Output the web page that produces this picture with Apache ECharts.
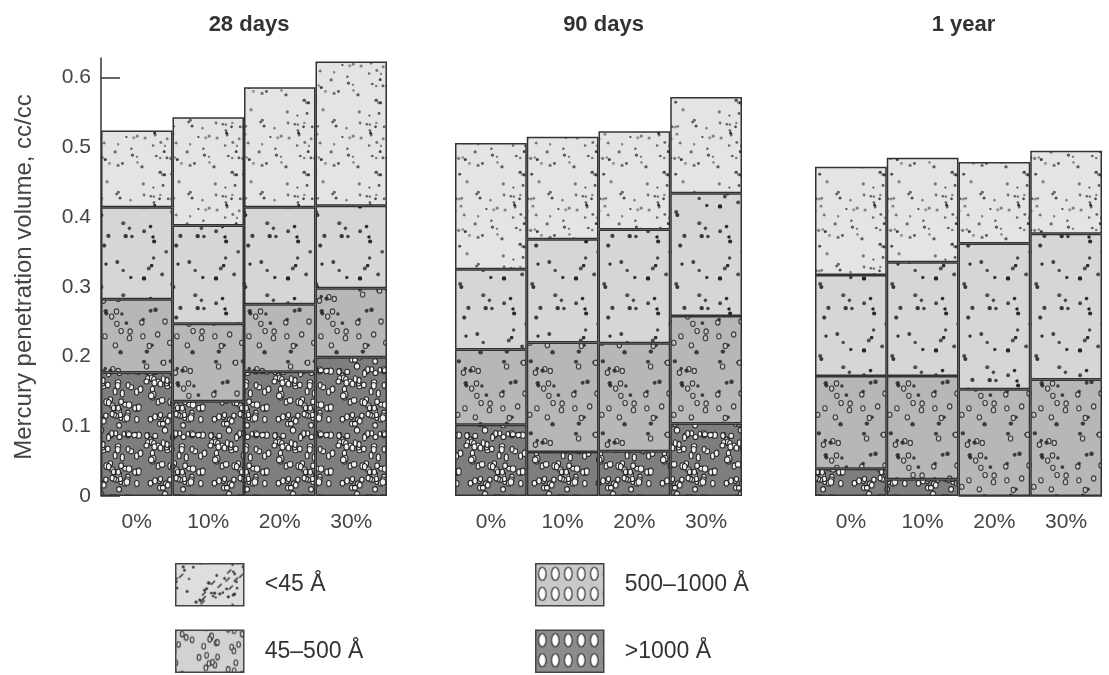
<!DOCTYPE html>
<html lang="en">
<head>
    <meta charset="utf-8">
    <title>Mercury penetration volume</title>
    <script src="https://cdn.jsdelivr.net/npm/echarts@6/dist/echarts.min.js"></script>
    <style>
        html, body { margin: 0; padding: 0; background: #fff; }
    </style>
</head>
<body>
<div id="chart" style="width:1109px; height:675px;"></div>

<script>
    // categories
    var ages = ['28 days', '90 days', '1 year'];
    var replacement = ['0%', '10%', '20%', '30%'];
    var sizeClasses = ['>1000 Å', '500–1000 Å', '45–500 Å', '<45 Å'];   // bottom -> top
    var yTicks = [0, 0.1, 0.2, 0.3, 0.4, 0.5, 0.6];

    // segment volumes (cc/cc), one row per age, one value per replacement level
    var over1000 = [
        [0.177, 0.136, 0.178, 0.199],
        [0.102, 0.063, 0.064, 0.104],
        [0.039, 0.024, 0, 0]
    ];
    var from500to1000 = [
        [0.105, 0.111, 0.097, 0.099],
        [0.108, 0.157, 0.155, 0.154],
        [0.133, 0.148, 0.153, 0.167]
    ];
    var from45to500 = [
        [0.132, 0.141, 0.139, 0.118],
        [0.115, 0.148, 0.163, 0.176],
        [0.145, 0.163, 0.209, 0.209]
    ];
    var under45 = [
        [0.110, 0.155, 0.172, 0.207],
        [0.181, 0.147, 0.141, 0.138],
        [0.155, 0.150, 0.117, 0.119]
    ];
    var classData = [over1000, from500to1000, from45to500, under45];

    // ---- texture tiles (pure styling) ----
    function rng(seed) {
        return function () {
            seed = (seed * 16807) % 2147483647;
            return (seed - 1) / 2147483646;
        };
    }
    function tile(w, h, bg, seed, count, drawOne) {
        var c = document.createElement('canvas');
        c.width = w; c.height = h;
        var ctx = c.getContext('2d');
        ctx.fillStyle = bg;
        ctx.fillRect(0, 0, w, h);
        var r = rng(seed);
        for (var i = 0; i < count; i++) {
            var x = r() * w, y = r() * h, a = r(), b = r();
            for (var dx = -w; dx <= w; dx += w) {
                for (var dy = -h; dy <= h; dy += h) {
                    drawOne(ctx, x + dx, y + dy, a, b);
                }
            }
        }
        return c;
    }
    function dot(ctx, x, y, rad, col) {
        ctx.beginPath();
        ctx.arc(x, y, rad, 0, Math.PI * 2);
        ctx.fillStyle = col;
        ctx.fill();
    }
    function oval(ctx, x, y, rx, ry, fill, stroke, lw) {
        ctx.beginPath();
        ctx.ellipse(x, y, rx, ry, 0, 0, Math.PI * 2);
        ctx.fillStyle = fill;
        ctx.fill();
        ctx.lineWidth = lw;
        ctx.strokeStyle = stroke;
        ctx.stroke();
    }
    function pattern(canvas) {
        return { image: canvas, repeat: 'repeat' };
    }

    var barFill = [
        // >1000
        pattern(tile(64, 64, '#7e7e7e', 11, 78, function (ctx, x, y, a, b) {
            oval(ctx, x, y, 1.9 + a, 2.4 + b, '#f2f2f2', '#2a2a2a', 1.1);
        })),
        // 500-1000
        pattern(tile(72, 72, '#b7b7b7', 23, 34, function (ctx, x, y, a, b) {
            if (a < 0.5) dot(ctx, x, y, 1.7 + b * 0.6, 'rgba(40,40,40,0.85)');
            else oval(ctx, x, y, 2.2, 2.6, '#c6c6c6', '#3a3a3a', 1.1);
        })),
        // 45-500
        pattern(tile(72, 72, '#d6d6d6', 37, 22, function (ctx, x, y, a, b) {
            dot(ctx, x, y, 1.6 + a * 0.6, 'rgba(30,30,30,' + (0.7 + b * 0.3) + ')');
        })),
        // <45
        pattern(tile(72, 72, '#e4e4e4', 51, 52, function (ctx, x, y, a, b) {
            dot(ctx, x, y, 1.1 + a * 0.6, 'rgba(40,40,40,' + (0.45 + b * 0.45) + ')');
        }))
    ];

    function ovalGrid(bg) {
        var c = document.createElement('canvas');
        c.width = 13; c.height = 20;
        var ctx = c.getContext('2d');
        ctx.fillStyle = bg;
        ctx.fillRect(0, 0, 13, 20);
        oval(ctx, 6.5, 10, 3.8, 6.5, '#ffffff', '#333', 1.2);
        return pattern(c);
    }
    var legendFill = [
        ovalGrid('#8c8c8c'),
        ovalGrid('#c9c9c9'),
        pattern(tile(60, 40, '#d2d2d2', 67, 22, function (ctx, x, y, a, b) {
            oval(ctx, x, y, 1.8, 2.8, '#e0e0e0', '#333', 1.1);
        })),
        pattern(tile(60, 40, '#dedede', 79, 40, function (ctx, x, y, a, b) {
            if (a < 0.6) dot(ctx, x, y, 1.1 + b * 0.5, '#333');
            else {
                ctx.beginPath();
                ctx.moveTo(x - 2, y + 2);
                ctx.lineTo(x + 2, y - 2);
                ctx.lineWidth = 1.4;
                ctx.strokeStyle = '#333';
                ctx.stroke();
            }
        }))
    ];

    // ---- layout ----
    var font = 'Liberation Sans, Arial, Helvetica, sans-serif';
    var panelLeft = [101, 455, 815];
    var panelWidth = [286, 287, 287];
    var gridTop = 58, gridHeight = 438;
    var yMax = 0.628;

    var grids = [], xAxes = [], yAxes = [], titles = [], series = [];
    ages.forEach(function (age, p) {
        grids.push({ left: panelLeft[p], top: gridTop, width: panelWidth[p], height: gridHeight });
        titles.push({
            text: age,
            left: panelLeft[p] + panelWidth[p] / 2,
            top: 9,
            textAlign: 'center',
            textStyle: { fontFamily: font, fontSize: 22, fontWeight: 'bold', color: '#333' }
        });
        xAxes.push({
            type: 'category',
            gridIndex: p,
            data: replacement,
            axisLine: { show: false },
            axisTick: { show: false },
            axisLabel: { margin: 16, fontFamily: font, fontSize: 21, color: '#444' }
        });
        yAxes.push({
            type: 'value',
            gridIndex: p,
            min: 0,
            max: yMax,
            show: p === 0,
            name: p === 0 ? 'Mercury penetration volume, cc/cc' : '',
            nameLocation: 'middle',
            nameGap: 65,
            nameTextStyle: { fontFamily: font, fontSize: 24, color: '#444' },
            splitLine: { show: false },
            axisLine: { show: true, lineStyle: { color: '#333', width: 1.5 } },
            axisTick: {
                show: true, inside: true, length: 19,
                customValues: yTicks,
                lineStyle: { color: '#333', width: 1.5 }
            },
            axisLabel: {
                customValues: yTicks,
                margin: 10,
                fontFamily: font, fontSize: 21, color: '#444'
            }
        });
        sizeClasses.forEach(function (name, k) {
            series.push({
                name: name,
                type: 'bar',
                stack: 'p' + p,
                xAxisIndex: p,
                yAxisIndex: p,
                barCategoryGap: '0%',
                data: classData[k][p],
                itemStyle: { color: barFill[k], borderColor: '#333', borderWidth: 1.5 },
                emphasis: { disabled: true }
            });
        });
    });

    function legendItem(k) {
        return {
            name: sizeClasses[k],
            icon: 'rect',
            itemStyle: { color: legendFill[k], borderColor: '#444', borderWidth: 1.5 }
        };
    }
    var legendBase = {
        orient: 'vertical',
        top: 563,
        padding: 0,
        height: 110,
        itemWidth: 68,
        itemHeight: 42,
        itemGap: 23,
        selectedMode: false,
        textStyle: { fontFamily: font, fontSize: 23, color: '#333', padding: [0, 0, 0, 16] }
    };

    var chart = echarts.init(document.getElementById('chart'));
    chart.setOption({
        animation: false,
        title: titles,
        grid: grids,
        xAxis: xAxes,
        yAxis: yAxes,
        legend: [
            Object.assign({}, legendBase, { left: 175, data: [legendItem(3), legendItem(2)] }),
            Object.assign({}, legendBase, { left: 535, data: [legendItem(1), legendItem(0)] })
        ],
        series: series
    });
</script>
</body>
</html>
